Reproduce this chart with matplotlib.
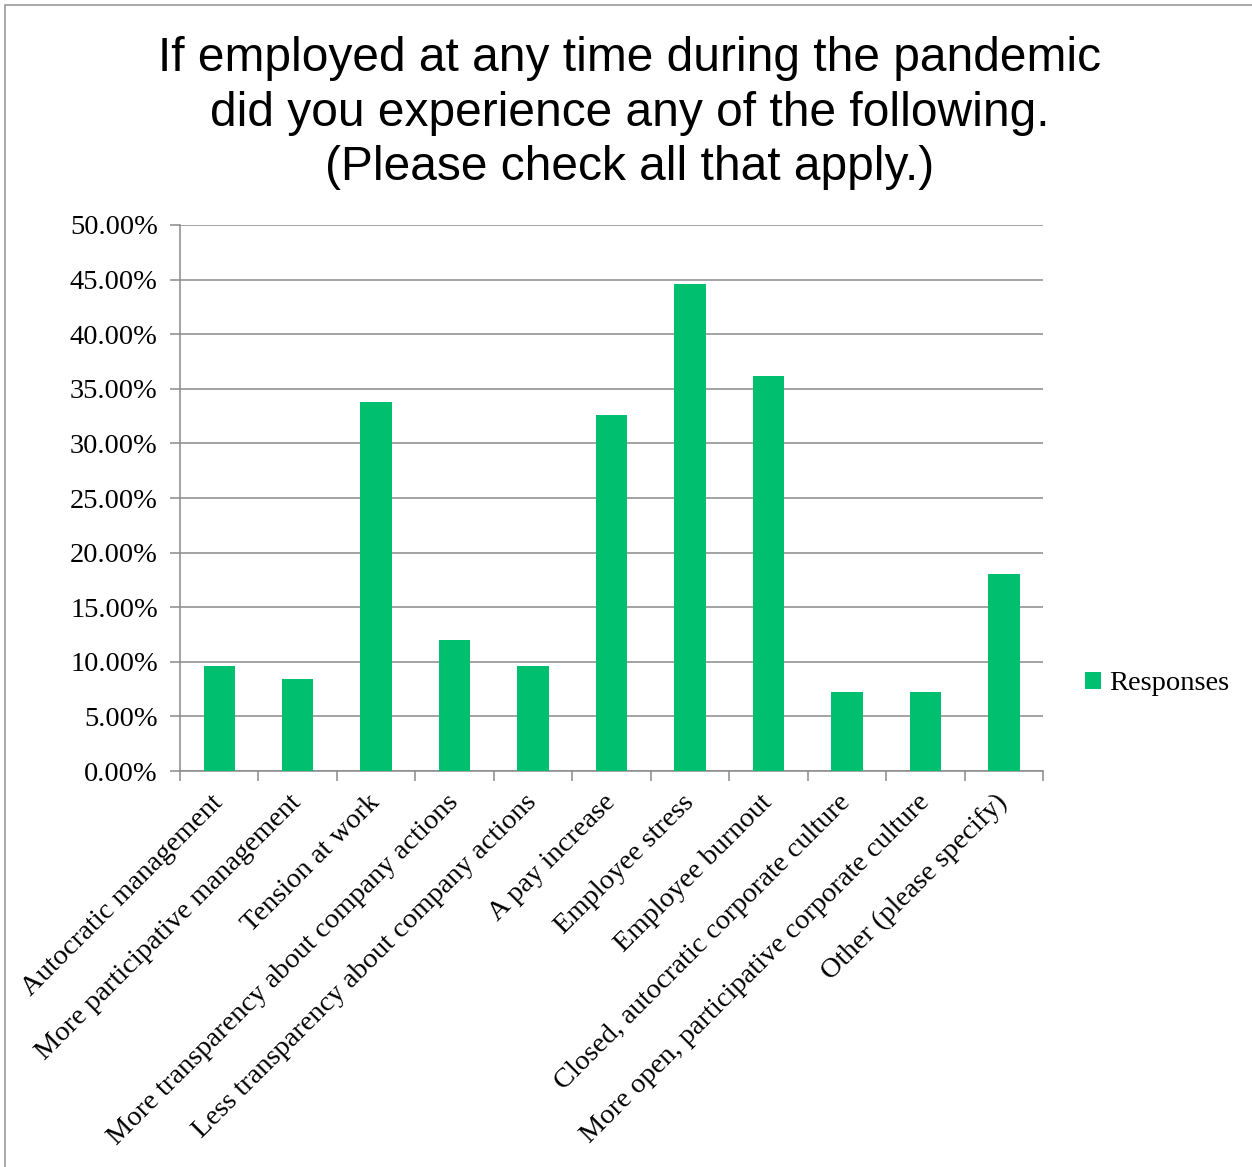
import numpy as np
import matplotlib
matplotlib.use('Agg')
import matplotlib.pyplot as plt
from matplotlib.patches import Rectangle
from matplotlib.ticker import FuncFormatter

categories = ['Autocratic management', 'More participative management', 'Tension at work',
              'More transparency about company actions', 'Less transparency about company actions',
              'A pay increase', 'Employee stress', 'Employee burnout',
              'Closed, autocratic corporate culture', 'More open, participative corporate culture',
              'Other (please specify)']
responses = [9.6, 8.4, 33.8, 12.0, 9.6, 32.6, 44.6, 36.2, 7.2, 7.2, 18.0]

title = 'If employed at any time during the pandemic\ndid you experience any of the following.\n(Please check all that apply.)'

green = '#00bf6f'
grey = '#8a8a8a'
serif = 'Liberation Serif'
fs = 20.5

fig = plt.figure(figsize=(12.52, 11.67), dpi=100)
ax = fig.add_axes([0.1438, 0.3393, 0.6893, 0.4679])

x = np.arange(len(categories))
ax.bar(x, responses, width=0.4, color=green, zorder=3, label='Responses')

ax.set_xlim(-0.5, len(categories) - 0.5)
ax.set_ylim(0, 50)
ax.set_yticks(np.arange(0, 50.1, 5))
ax.yaxis.set_major_formatter(FuncFormatter(lambda v, p: f'{v:.2f}%'))
ax.grid(axis='y', color=grey, linewidth=1.1, zorder=0)

# ticks between categories, labels at centers
ax.set_xticks(np.arange(-0.5, len(categories)))
ax.set_xticklabels([])
ax.set_xticks(x, minor=True)
ax.set_xticklabels(categories, minor=True, rotation=45, ha='right', va='center',
                   rotation_mode='anchor', fontsize=fs, fontfamily=serif)
ax.tick_params(axis='x', which='minor', length=0, pad=20)
ax.tick_params(axis='x', which='major', length=7, width=1.1, color=grey)
ax.tick_params(axis='y', length=7, width=1.1, color=grey, labelsize=fs, pad=9)
for lab in ax.get_yticklabels():
    lab.set_fontfamily(serif)

for s in ['top', 'right']:
    ax.spines[s].set_visible(False)
for s in ['left', 'bottom']:
    ax.spines[s].set_color(grey)
    ax.spines[s].set_linewidth(1.1)

fig.text(0.503, 0.969, title, ha='center', va='top', fontsize=34.5,
         fontfamily='Liberation Sans', linespacing=1.27)

leg = fig.legend(loc='center left', bbox_to_anchor=(1085 / 1252, 1 - 684 / 1167), frameon=False,
                 prop={'family': serif, 'size': fs}, handlelength=0.55, handleheight=0.55,
                 handletextpad=0.3, borderpad=0, borderaxespad=0)

# outer chart frame
fig.patches.append(Rectangle((5 / 1252, -0.01), 1.2, 1 - 5 / 1167 + 0.01, transform=fig.transFigure,
                             fill=False, edgecolor='#9a9a9a', linewidth=1.2))

fig.savefig('out.png', dpi=100)
